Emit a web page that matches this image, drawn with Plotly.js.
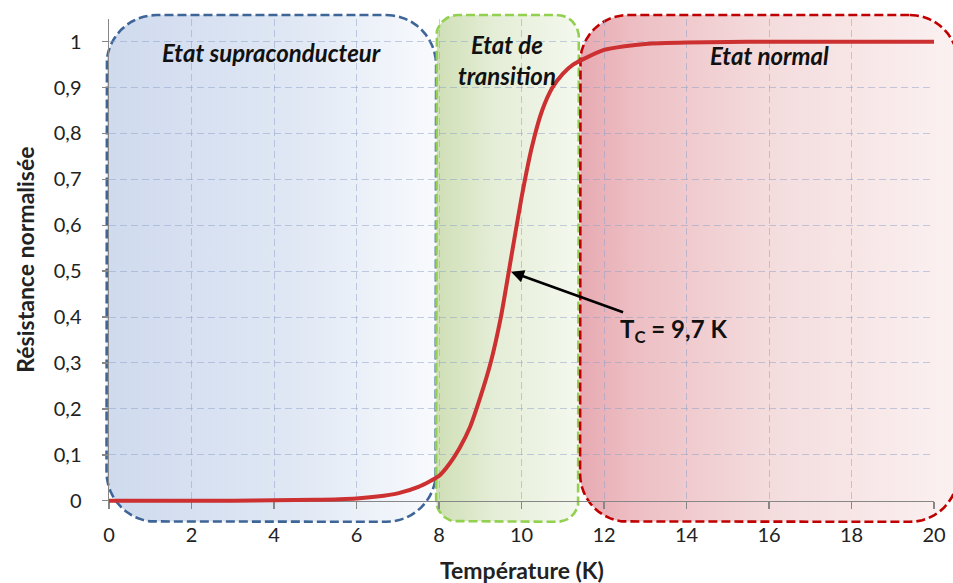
<!DOCTYPE html>
<html><head><meta charset="utf-8">
<script src="https://cdn.plot.ly/plotly-3.0.1.min.js"></script>
<style>html,body{margin:0;padding:0;background:#fff}#chart{width:953px;height:583px}</style>
</head><body><div id="chart"></div>
<script>
// ---- data ----
const temperature = [0,1,2,3,4,5,6,6.5,7,7.5,8,8.25,8.5,8.75,9,9.25,9.5,9.75,10,10.25,10.5,10.75,11,11.25,11.5,12,12.5,13,14,15,16,17,18,19,20];
const resistance  = [0,0,0,0,0.001,0.002,0.005,0.009,0.016,0.03,0.054,0.08,0.115,0.16,0.225,0.3,0.4,0.53,0.66,0.77,0.85,0.9,0.93,0.95,0.962,0.982,0.99,0.995,0.998,0.999,1,1,1,1,1];
const xTickVals = [0,2,4,6,8,10,12,14,16,18,20];
const yTickVals = [0,0.1,0.2,0.3,0.4,0.5,0.6,0.7,0.8,0.9,1];
const yTickText = ['0','0,1','0,2','0,3','0,4','0,5','0,6','0,7','0,8','0,9','1'];
const regionNames = ['Etat supraconducteur','Etat de<br>transition','Etat normal'];
const regionStart = [-0.06, 7.93, 11.42];
const regionEnd   = [7.93, 11.39, 20.58];
const tcValue = 9.7;
const tcResistance = 0.5;
const tcLabel = 'T<sub>C</sub> = 9,7 K';
const xTitle = 'Température (K)';
const yTitle = 'Résistance normalisée';

// ---- geometry / styles ----
const W = 953, H = 583;
const PL = 109, PR = 934, PT = 18.7, PB = 500.7;
const X_MAX = 20, Y_MAX = 1.05;
const sx = (PR - PL) / X_MAX, sy = (PB - PT) / Y_MAX;
const fullX = [-PL / sx, X_MAX + (W - PR) / sx];
const fullY = [-(H - PB) / sy, Y_MAX + PT / sy];
const regionBottom = -0.046, regionTop = 1.058;
const regionRadius = [50, 22, 48];
const regionLine = ['#3e6597', '#92d050', '#c00000'];
const regionScale = [
  [[0,'#cfdaee'],[0.55,'#dfe7f4'],[1,'#f8fafd']],
  [[0,'#cfdfb6'],[0.4,'#e4edd6'],[1,'#f4f8ee']],
  [[0,'#e7aab2'],[0.15,'#edbfc4'],[0.5,'#f4dcdd'],[1,'#fbf1f1']]
];
const regionLabelYpx = [52, 60, 55];
const FONT = 'Lato, "Open Sans", sans-serif';

function roundRect(x0, x1, y0, y1, r) {
  const rx = r / sx, ry = r / sy, n = 12;
  const xs = [], ys = [];
  const corners = [
    [x1 - rx, y1 - ry, 90, 0],
    [x1 - rx, y0 + ry, 0, -90],
    [x0 + rx, y0 + ry, -90, -180],
    [x0 + rx, y1 - ry, 180, 90]
  ];
  corners.forEach(([cx, cy, a0, a1]) => {
    for (let i = 0; i <= n; i++) {
      const a = (a0 + (a1 - a0) * i / n) * Math.PI / 180;
      xs.push(cx + rx * Math.cos(a));
      ys.push(cy + ry * Math.sin(a));
    }
  });
  xs.push(xs[0]); ys.push(ys[0]);
  return {xs, ys};
}

const traces = [];
regionNames.forEach((name, i) => {
  const p = roundRect(regionStart[i], regionEnd[i], regionBottom, regionTop, regionRadius[i]);
  traces.push({
    type: 'scatter', mode: 'lines', x: p.xs, y: p.ys, xaxis: 'x', yaxis: 'y',
    fill: 'toself',
    fillgradient: {type: 'horizontal', colorscale: regionScale[i]},
    line: {color: regionLine[i], width: 2.6, dash: '9px,4px'},
    hoverinfo: 'skip', showlegend: false, name: name.replace('<br>', ' ')
  });
});
// axes / grid subplot (no marks)
traces.push({type: 'scatter', mode: 'lines', x: [], y: [], xaxis: 'x2', yaxis: 'y2', showlegend: false, hoverinfo: 'skip'});
// curve
traces.push({
  type: 'scatter', mode: 'lines', x: temperature, y: resistance, xaxis: 'x3', yaxis: 'y3',
  line: {color: '#cc3030', width: 4, shape: 'spline', smoothing: 0.6},
  showlegend: false, name: 'Résistance normalisée'
});

const annotations = regionNames.map((name, i) => ({
  xref: 'x', yref: 'y',
  x: (regionStart[i] + regionEnd[i]) / 2,
  y: (PB - regionLabelYpx[i]) / sy,
  text: name, showarrow: false,
  font: {family: FONT, size: 24, color: '#111', weight: 'bold', style: 'italic'}
}));
annotations.push({
  xref: 'x3', yref: 'y3', x: tcValue, y: tcResistance,
  text: tcLabel, showarrow: true, ax: 164, ay: 59,
  arrowhead: 2, arrowsize: 1, arrowwidth: 2.6, arrowcolor: '#000', standoff: 2,
  font: {family: FONT, size: 24, color: '#111', weight: 'bold'}
});
annotations.push({
  xref: 'paper', yref: 'paper', x: (PL + PR) / 2 / W, y: 1 - 570 / H,
  xanchor: 'center', yanchor: 'middle',
  text: xTitle, showarrow: false,
  font: {family: FONT, size: 23, color: '#222', weight: 'bold'}
});
annotations.push({
  xref: 'paper', yref: 'paper', x: 25 / W, y: 1 - (PT + PB) / 2 / H,
  xanchor: 'center', yanchor: 'middle',
  text: yTitle, showarrow: false, textangle: -90,
  font: {family: FONT, size: 23, color: '#222', weight: 'bold'}
});

const hidden = {visible: false, fixedrange: true};
const gridStyle = {
  showgrid: true, gridcolor: 'rgba(140,160,200,0.5)', gridwidth: 1, griddash: '7px,4px',
  showline: true, linecolor: '#878787', linewidth: 1.5,
  ticks: 'outside', ticklen: 7, tickcolor: '#878787', tickwidth: 1.5,
  zeroline: false, tickfont: {family: FONT, size: 20, color: '#222'},
  automargin: false
};

const layout = {
  width: W, height: H,
  margin: {l: 0, r: 0, t: 0, b: 0},
  paper_bgcolor: '#ffffff', plot_bgcolor: 'rgba(0,0,0,0)',
  separators: ', ',
  xaxis: Object.assign({domain: [0, 1], range: fullX, anchor: 'y'}, hidden),
  yaxis: Object.assign({domain: [0, 1], range: fullY, anchor: 'x'}, hidden),
  xaxis3: Object.assign({domain: [0, 1], range: fullX, anchor: 'y3'}, hidden),
  yaxis3: Object.assign({domain: [0, 1], range: fullY, anchor: 'x3'}, hidden),
  xaxis2: Object.assign({}, gridStyle, {
    domain: [PL / W, PR / W], range: [0, X_MAX], anchor: 'y2',
    tickvals: xTickVals, ticklabelstandoff: 9
  }),
  yaxis2: Object.assign({}, gridStyle, {
    domain: [(H - PB) / H, (H - PT) / H], range: [0, Y_MAX], anchor: 'x2',
    tickvals: yTickVals, ticktext: yTickText, ticklen: 6, ticklabelstandoff: 16
  }),
  annotations: annotations
};

Plotly.newPlot('chart', traces, layout, {staticPlot: true, displayModeBar: false});
</script>
</body></html>
